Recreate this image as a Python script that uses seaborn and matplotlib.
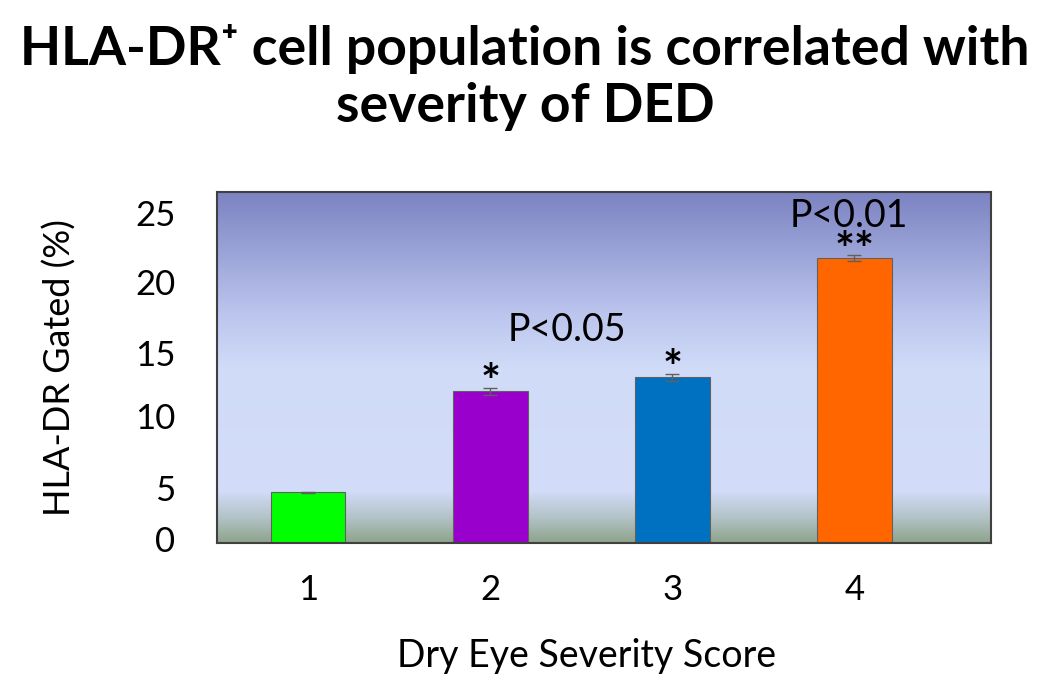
import numpy as np
import matplotlib
matplotlib.use('Agg')
from matplotlib import pyplot as plt
from matplotlib.colors import LinearSegmentedColormap
import matplotlib.transforms as mtransforms
import seaborn as sns

scores = ['1', '2', '3', '4']
gated = [3.6, 10.8, 11.8, 20.3]
errs = [0.05, 0.25, 0.25, 0.2]
bar_colors = ['#00ff00', '#9900cc', '#0070c0', '#ff6600']
stars = ['', '*', '*', '**']
star_gap = [0, 0.5, 0.55, 0.45]
yticks = [0, 5, 10, 15, 20, 25]

sns.set_style('white')
plt.rcParams['font.family'] = ['Lato', 'DejaVu Sans']
plt.rcParams['text.color'] = 'black'
plt.rcParams['axes.labelcolor'] = 'black'
plt.rcParams['xtick.labelcolor'] = 'black'
plt.rcParams['ytick.labelcolor'] = 'black'

fig = plt.figure(figsize=(10.5, 6.89), dpi=100)
ax = fig.add_axes([0.2067, 0.2119, 0.7371, 0.5094])

# gradient background of the plot area
bg = LinearSegmentedColormap.from_list('bg', [
    (0.0, '#8ea48b'), (0.07, '#b2c2c6'), (0.15, '#d3ddfa'),
    (0.5, '#d0dbf8'), (0.65, '#bcc6ee'), (1.0, '#7c83c2')])
grad = np.linspace(0, 1, 256).reshape(-1, 1)
ax.imshow(grad, cmap=bg, aspect='auto', origin='lower',
          extent=[0, 1, 0, 1], transform=ax.transAxes, zorder=0)

sns.barplot(x=scores, y=gated, hue=scores, palette=bar_colors, legend=False,
            saturation=1, width=0.41, edgecolor='#606060', linewidth=0.8,
            ax=ax, zorder=2)
ax.errorbar(range(4), gated, yerr=errs, fmt='none', ecolor='#606060',
            elinewidth=1, capsize=5, zorder=3)

for i, s in enumerate(stars):
    if s:
        ax.text(i, gated[i] + star_gap[i], s, ha='center', va='center',
                fontsize=34, fontweight='bold')
ax.text(1.42, 15.2, 'P<0.05', ha='center', va='center', fontsize=27)
ax.text(2.97, 23.3, 'P<0.01', ha='center', va='center', fontsize=27)

ax.set_xlim(-0.5, 3.75)
ax.set_ylim(0, 25)
ax.set_yticks(yticks)
ax.set_yticklabels([str(v) for v in yticks], fontsize=25)
ax.tick_params(axis='y', length=0, pad=30)
ax.tick_params(axis='x', length=0, pad=22, labelsize=25)
ax.set_xticks([0.5, 1.5, 2.5], minor=True)
ax.tick_params(axis='x', which='minor', length=4, color='#b0b0b0', width=0.8)

# shift the y labels like in the original figure
shifts = [-4, 15, 13, 21, 20, 21]
for lab, dy in zip(ax.get_yticklabels(), shifts):
    lab.set_transform(lab.get_transform() +
                      mtransforms.ScaledTranslation(0, -dy / 100, fig.dpi_scale_trans))

ax.set_xlabel('Dry Eye Severity Score', fontsize=27, labelpad=20)
ax.xaxis.set_label_coords(0.478, -0.27)
ax.set_ylabel('HLA-DR Gated (%)', fontsize=26, labelpad=42)

for sp in ax.spines.values():
    sp.set_visible(True)
    sp.set_color('#404040')
    sp.set_linewidth(1.5)

fig.text(0.5, 0.887, 'HLA-DR\u207a cell population is correlated with\nseverity of DED',
         ha='center', va='center', fontsize=38.5, fontweight='bold', linespacing=1.2)

fig.savefig('out.png', dpi=100)
